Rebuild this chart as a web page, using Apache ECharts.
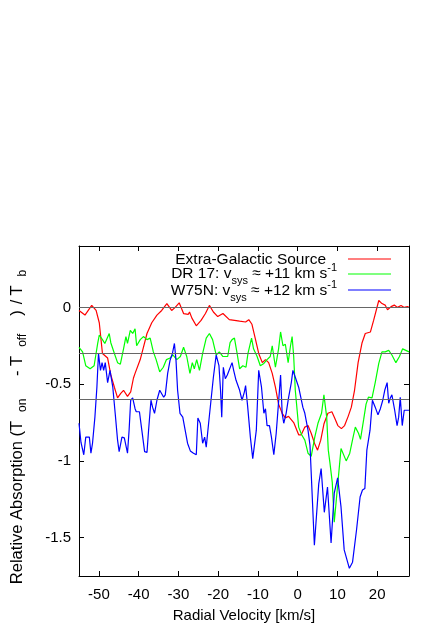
<!DOCTYPE html>
<html><head><meta charset="utf-8">
<script src="https://cdn.jsdelivr.net/npm/echarts@6/dist/echarts.min.js"></script>
<style>html,body{margin:0;padding:0;background:#fff}#c{width:436px;height:623px}</style>
</head><body><div id="c"></div><script>
// ---- data ----
const xTicks = [-50, -40, -30, -20, -10, 0, 10, 20];
const yTicks = [-1.5, -1, -0.5, 0];
const refLevels = [0, -0.3, -0.6];

const extraV = [-55,-53.5,-51.8,-50.7,-49.9,-49.1,-47.8,-47,-46.1,-45.3,-44.5,-43.8,-42.8,-42,-41.3,-40.9,-39.6,-38.8,-37.9,-36.7,-35.4,-34.2,-32.9,-31.7,-30.8,-29.8,-28.7,-27.5,-27.2,-26.6,-25.5,-24.3,-23.2,-22.2,-21.2,-20.1,-18.8,-17.2,-14.6,-13.1,-12.3,-11.5,-10.6,-9.8,-8.9,-8.1,-7.3,-6.4,-5.6,-4.8,-3.9,-3.1,-2.3,-1.0,0.25,0.9,1.8,2.6,3.4,4.3,5.0,5.8,6.6,7.6,8.6,9.3,10.1,11,11.8,12.7,13.5,14.3,15.2,16.2,17,18.3,19.1,20.4,21.2,22,22.6,23.5,24.3,25.1,26,26.8,27.6,28];
const extraY = [-0.02,-0.05,0.013,-0.02,-0.10,-0.30,-0.33,-0.44,-0.52,-0.59,-0.56,-0.54,-0.58,-0.55,-0.46,-0.43,-0.34,-0.26,-0.17,-0.10,-0.05,-0.02,0.025,-0.02,0,0.03,-0.04,-0.045,-0.03,-0.07,-0.12,-0.085,-0.04,0.013,-0.03,-0.06,-0.04,-0.08,-0.09,-0.095,-0.08,-0.11,-0.21,-0.30,-0.36,-0.34,-0.36,-0.43,-0.52,-0.63,-0.69,-0.72,-0.71,-0.75,-0.83,-0.83,-0.78,-0.77,-0.82,-0.89,-0.93,-0.865,-0.76,-0.69,-0.68,-0.72,-0.77,-0.79,-0.77,-0.71,-0.65,-0.54,-0.36,-0.23,-0.17,-0.16,-0.085,0.045,0.025,0.015,-0.015,0.005,0.015,0,0.013,0,0.005,0];

const dr17V = [-55,-54.1,-53.3,-52.2,-51.2,-50.3,-49.9,-49.1,-48.5,-47.4,-47,-46.1,-45.3,-44.6,-43.8,-43.2,-42.8,-42.1,-41.5,-40.9,-40.5,-39.6,-38.8,-37.9,-37.1,-36.3,-35.6,-34.7,-33.8,-33,-32.1,-31.4,-30.4,-29.5,-28.7,-27.9,-27.1,-26.5,-26,-25.4,-24.7,-23.9,-23,-22.2,-21.4,-20.5,-19.7,-18.8,-17.6,-17,-16.5,-15.9,-15.3,-14.6,-13.8,-13,-12.5,-11.6,-11.1,-10.2,-9.4,-8.5,-7.7,-6.9,-6.4,-5.6,-4.8,-4.3,-3.7,-3.1,-2.4,-1.8,-1.4,-1.0,-0.6,0.25,1.0,1.8,2.6,3.4,4.3,5.1,6,6.6,7.3,7.7,8.1,8.7,9.2,10.9,11.4,12.2,13.1,13.9,14.5,15.3,15.8,16.6,17.2,17.8,18.7,19.5,20.4,21.2,22,22.9,23.7,24.7,25.6,26.4,27.2,28];
const dr17Y = [-0.26,-0.29,-0.38,-0.40,-0.38,-0.235,-0.18,-0.21,-0.235,-0.17,-0.23,-0.30,-0.36,-0.37,-0.27,-0.19,-0.235,-0.15,-0.17,-0.14,-0.25,-0.21,-0.19,-0.21,-0.20,-0.29,-0.34,-0.42,-0.39,-0.34,-0.33,-0.31,-0.34,-0.32,-0.26,-0.32,-0.43,-0.36,-0.40,-0.34,-0.41,-0.30,-0.20,-0.17,-0.21,-0.31,-0.29,-0.32,-0.32,-0.23,-0.21,-0.20,-0.29,-0.40,-0.38,-0.39,-0.30,-0.20,-0.27,-0.32,-0.38,-0.365,-0.34,-0.32,-0.25,-0.39,-0.27,-0.16,-0.25,-0.24,-0.36,-0.25,-0.19,-0.32,-0.54,-0.78,-0.83,-0.865,-0.95,-0.97,-0.845,-0.755,-0.69,-0.57,-0.715,-0.93,-1.01,-1.14,-1.40,-0.92,-0.93,-1.0,-0.95,-0.85,-0.78,-0.82,-0.86,-0.73,-0.63,-0.585,-0.59,-0.49,-0.365,-0.29,-0.29,-0.28,-0.31,-0.36,-0.32,-0.27,-0.28,-0.29];

const w75nV = [-55,-54.5,-53.8,-53.3,-52.4,-52,-51.6,-51,-50.5,-50.1,-49.6,-49.2,-48.8,-48.4,-47.8,-47.2,-46.5,-45.9,-45.3,-44.9,-44.2,-43.6,-42.8,-42.4,-42,-41.5,-40.9,-40.6,-39.8,-39.2,-38.5,-37.9,-37.5,-36.9,-36.5,-36,-35.4,-34.7,-34.2,-33.7,-33.3,-32.7,-32.1,-31.5,-31,-30.6,-30.2,-29.6,-28.9,-28.3,-27.7,-27,-26.2,-25.5,-25.1,-24.5,-23.9,-23.4,-23,-22.4,-21.8,-21.2,-20.5,-19.8,-19.4,-19.1,-18.7,-18.2,-17.7,-17.2,-16.5,-16.1,-15.5,-14.6,-14,-13.4,-13.1,-12.6,-11.9,-11.3,-10.8,-10.4,-9.8,-9.1,-8.5,-8.1,-7.7,-7.1,-6.6,-6,-5.4,-4.9,-4.3,-3.9,-3.5,-2.9,-2.3,-1.6,-1.2,-0.6,0.25,0.7,1.3,1.8,2.6,3.1,4.2,5.3,5.9,6.7,7.5,8.4,9.2,10.05,10.9,11.7,13,13.8,14.8,15.7,16.3,16.9,17.4,18.2,18.8,19.5,20.2,20.8,21.4,21.9,22.5,22.9,23.3,23.7,24.4,25,25.4,25.8,26.3,26.8,27.2,28];
const w75nY = [-0.755,-0.88,-0.96,-0.845,-0.845,-0.95,-0.885,-0.715,-0.52,-0.30,-0.41,-0.36,-0.41,-0.36,-0.49,-0.41,-0.52,-0.69,-0.865,-0.94,-0.845,-0.85,-0.95,-0.80,-0.605,-0.59,-0.66,-0.68,-0.68,-0.80,-0.94,-0.945,-0.80,-0.605,-0.65,-0.69,-0.605,-0.54,-0.53,-0.585,-0.57,-0.43,-0.345,-0.30,-0.235,-0.345,-0.54,-0.69,-0.715,-0.80,-0.885,-0.935,-0.95,-0.96,-0.72,-0.755,-0.885,-0.845,-0.91,-0.755,-0.605,-0.455,-0.31,-0.38,-0.54,-0.715,-0.39,-0.465,-0.44,-0.44,-0.36,-0.41,-0.475,-0.54,-0.605,-0.55,-0.51,-0.64,-0.845,-0.985,-0.975,-0.80,-0.41,-0.52,-0.69,-0.66,-0.77,-0.77,-0.845,-0.96,-0.82,-0.65,-0.44,-0.69,-0.755,-0.69,-0.59,-0.49,-0.41,-0.455,-0.52,-0.53,-0.65,-0.69,-0.80,-0.90,-1.55,-1.15,-1.05,-1.335,-1.17,-1.535,-1.21,-1.11,-1.30,-1.58,-1.70,-1.66,-1.45,-1.235,-1.19,-1.18,-0.93,-0.80,-0.605,-0.65,-0.70,-0.66,-0.605,-0.54,-0.49,-0.625,-0.59,-0.57,-0.67,-0.77,-0.715,-0.585,-0.77,-0.67,-0.66,-0.67];

const zip = (a, b) => a.map((v, i) => [v, b[i]]);
const FONT = '"Liberation Sans", Arial, sans-serif';

const chart = echarts.init(document.getElementById('c'), null, {renderer: 'canvas'});
const frameAxisX = (pos) => ({
  type: 'value', min: -55, max: 28, position: pos,
  axisLine: {show: true, onZero: false, lineStyle: {color: '#000', width: 1}},
  axisTick: {show: true, inside: true, length: 5, customValues: xTicks, lineStyle: {color: '#000'}},
  axisLabel: {show: pos === 'bottom', customValues: xTicks, margin: 11, fontSize: 15, color: '#000', fontFamily: FONT},
  splitLine: {show: false}
});
const frameAxisY = (pos) => ({
  type: 'value', min: -1.75, max: 0.4, position: pos,
  axisLine: {show: true, onZero: false, lineStyle: {color: '#000', width: 1}},
  axisTick: {show: true, inside: true, length: 5, customValues: yTicks, lineStyle: {color: '#000'}},
  axisLabel: {show: pos === 'left', customValues: yTicks, margin: 8, fontSize: 15, color: '#000', fontFamily: FONT,
    formatter: v => String(v)},
  splitLine: {show: false}
});
const xb = frameAxisX('bottom');
xb.name = 'Radial Velocity [km/s]';
xb.nameLocation = 'middle';
xb.nameGap = 32;
xb.nameTextStyle = {fontSize: 15, color: '#000', fontFamily: FONT};
const yl = frameAxisY('left');
yl.name = 'Relative Absorption (T{sub|on} - T{sub|off}){sl|/}T{sub|b}';
yl.nameLocation = 'middle';
yl.nameGap = 50;
yl.nameTextStyle = {fontSize: 16.5, color: '#000', fontFamily: FONT, lineHeight: 24, padding: [0, 14, 0, 0],
  rich: {
    sub: {fontSize: 12, fontFamily: FONT, color: '#000', verticalAlign: 'bottom', lineHeight: 15, padding: [0, 18, 0, 9]},
    sl: {fontSize: 16.5, fontFamily: FONT, color: '#000', lineHeight: 24, padding: [0, 4, 0, 6]}
  }};

const richLeg = {
  sub: {fontSize: 11, fontFamily: FONT, color: '#000', verticalAlign: 'bottom', lineHeight: 14},
  sup: {fontSize: 11, fontFamily: FONT, color: '#000', verticalAlign: 'top', lineHeight: 14}
};
const legText = (txt, x, y) => ({
  type: 'text', x: x, y: y, silent: true,
  style: {text: txt, fill: '#000', font: '15.5px ' + FONT, align: 'right', verticalAlign: 'middle', lineHeight: 24, rich: richLeg}
});
const legLine = (y, c) => ({
  type: 'line', silent: true, shape: {x1: 348, y1: y, x2: 391, y2: y}, style: {stroke: c, lineWidth: 1.2}
});

chart.setOption({
  animation: false,
  backgroundColor: '#fff',
  grid: {left: 79, right: 27, top: 246, bottom: 47, containLabel: false, outerBoundsMode: 'none'},
  xAxis: [xb, frameAxisX('top')],
  yAxis: [yl, frameAxisY('right')],
  series: [
    {name: 'Extra-Galactic Source', type: 'line', data: zip(extraV, extraY), showSymbol: false,
     lineStyle: {color: '#ff0000', width: 1.2}, itemStyle: {color: '#ff0000'},
     markLine: {silent: true, symbol: 'none', label: {show: false}, lineStyle: {color: '#666', width: 1, type: 'solid'},
       data: refLevels.map(v => ({yAxis: v}))}},
    {name: 'DR 17', type: 'line', data: zip(dr17V, dr17Y), showSymbol: false,
     lineStyle: {color: '#00ff00', width: 1.2}, itemStyle: {color: '#00ff00'}},
    {name: 'W75N', type: 'line', data: zip(w75nV, w75nY), showSymbol: false,
     lineStyle: {color: '#0000ff', width: 1.2}, itemStyle: {color: '#0000ff'}}
  ],
  graphic: [
    legText('Extra-Galactic Source', 326, 260),
    legText('DR 17: v{sub|sys} ≈ +11 km s{sup|-1}', 337, 274),
    legText('W75N: v{sub|sys} ≈ +12 km s{sup|-1}', 337, 291),
    legLine(259, '#ff0000'),
    legLine(274, '#00ff00'),
    legLine(290, '#0000ff')
  ]
});
</script></body></html>
